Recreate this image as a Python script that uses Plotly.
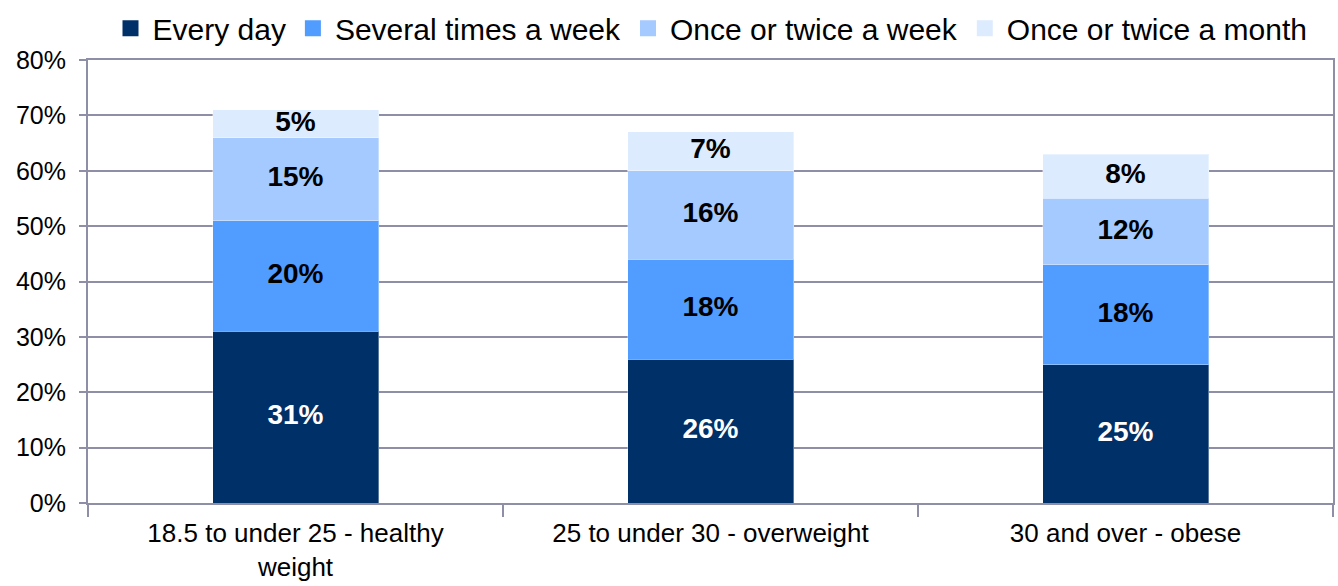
import plotly.graph_objects as go

# BMI groups and share of respondents by frequency (percent)
categories = [
    "18.5 to under 25 - healthy<br>weight",
    "25 to under 30 - overweight",
    "30 and over - obese",
]
series_names = [
    "Every day",
    "Several times a week",
    "Once or twice a week",
    "Once or twice a month",
]
every_day = [31, 26, 25]
several_times_week = [20, 18, 18]
once_twice_week = [15, 16, 12]
once_twice_month = [5, 7, 8]

series_values = [every_day, several_times_week, once_twice_week, once_twice_month]
colors = ["#003068", "#519CFF", "#A4CAFF", "#DDEBFF"]
label_colors = ["white", "black", "black", "black"]

font_family = "Liberation Sans, Arial, sans-serif"
grid_color = "#8E8EA6"

fig = go.Figure()

for name, vals, col in zip(series_names, series_values, colors):
    fig.add_trace(go.Bar(
        name=name, x=categories, y=vals,
        marker=dict(color=col, line=dict(width=1, color="rgba(255,255,255,0.35)")),
        showlegend=False, hoverinfo="skip",
    ))

# legend entries drawn as square markers
for name, col in zip(series_names, colors):
    fig.add_trace(go.Scatter(
        name=name, x=[None], y=[None], mode="markers",
        marker=dict(symbol="square", size=16, color=col),
        showlegend=True, hoverinfo="skip",
    ))

# value labels at the middle of each stacked segment
base = [0] * len(categories)
for vals, lcol in zip(series_values, label_colors):
    mids = [b + v / 2 for b, v in zip(base, vals)]
    fig.add_trace(go.Scatter(
        x=categories, y=mids, mode="text",
        text=[f"{v}%" for v in vals],
        textfont=dict(family=font_family, size=28, color=lcol, weight="bold"),
        showlegend=False, hoverinfo="skip",
    ))
    base = [b + v for b, v in zip(base, vals)]

fig.update_layout(
    barmode="stack",
    bargap=0.6,
    width=1338, height=586,
    margin=dict(l=88, r=5, t=60, b=83, autoexpand=False),
    paper_bgcolor="white", plot_bgcolor="white",
    font=dict(family=font_family, size=26, color="black"),
    legend=dict(
        orientation="h", x=0.5, xanchor="center",
        yref="container", y=0.952, yanchor="middle",
        font=dict(size=30), traceorder="normal", itemwidth=34,
    ),
    showlegend=True,
)

fig.update_xaxes(
    type="category", tickson="boundaries", ticks="outside", ticklen=12,
    tickcolor=grid_color, tickwidth=2,
    showline=True, linecolor=grid_color, linewidth=2, mirror=True,
    showgrid=False, tickfont=dict(size=26), ticklabelstandoff=6,
    automargin=False,
)
fig.update_yaxes(
    range=[0, 80], dtick=10, ticksuffix="%",
    ticks="outside", ticklen=7, tickcolor=grid_color, tickwidth=2,
    showline=True, linecolor=grid_color, linewidth=2, mirror=True,
    showgrid=True, gridcolor=grid_color, gridwidth=2,
    zeroline=False, tickfont=dict(size=25), ticklabelstandoff=8,
    automargin=False,
)

fig.write_html("out.html")
